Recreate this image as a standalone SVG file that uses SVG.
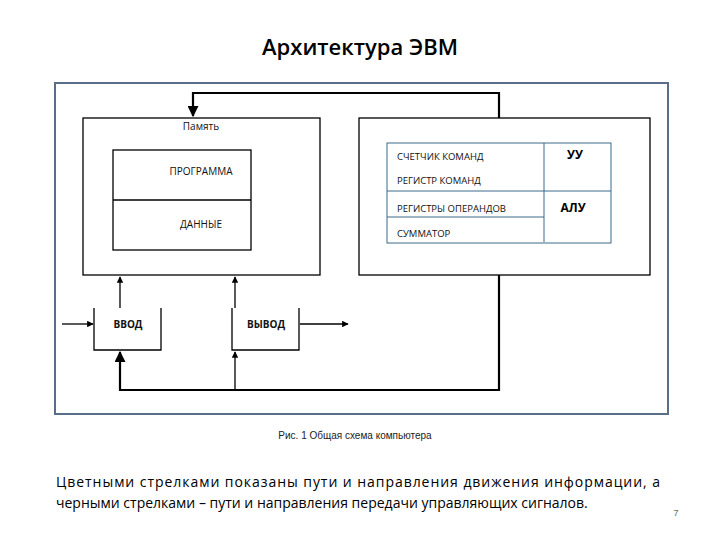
<svg xmlns="http://www.w3.org/2000/svg" width="720" height="540" viewBox="0 0 720 540">
<style>
.b{fill:none;stroke:#000;stroke-width:1.3}
.c{fill:none;stroke:#000;stroke-width:2.2}
.t{font-family:"Open Sans","DejaVu Sans",sans-serif;font-size:10px;fill:#111;text-anchor:middle}
.l{font-family:"Open Sans","DejaVu Sans",sans-serif;font-size:9.5px;fill:#111}
</style>
<defs>
<marker id="a" viewBox="0 0 10 10" refX="9" refY="5" markerWidth="5" markerHeight="5" orient="auto"><path d="M0,0L10,5L0,10z" fill="#000"/></marker>
</defs>
<rect width="720" height="540" fill="#fff"/>
<text x="360" y="55" font-family="Open Sans, sans-serif" font-size="22" font-weight="600" text-anchor="middle" fill="#000">Архитектура ЭВМ</text>
<rect x="55" y="83" width="613" height="331" fill="none" stroke="#5a6e8a" stroke-width="2"/>
<g id="memory"><rect class="b" x="83" y="118" width="237" height="157"/><text class="t" x="201" y="130">Память</text>
<rect class="b" x="113" y="150" width="138" height="100"/><line class="b" x1="113" y1="200" x2="251" y2="200"/>
<text class="t" x="201" y="175">ПРОГРАММА</text><text class="t" x="201" y="228">ДАННЫЕ</text></g>
<g id="cpu"><rect class="b" x="359" y="118" width="291" height="157"/>
<rect x="387" y="143" width="224" height="100" fill="none" stroke="#3a6a8a" stroke-width="1"/>
<line x1="387" y1="191" x2="611" y2="191" stroke="#3a6a8a"/><line x1="387" y1="217" x2="544" y2="217" stroke="#3a6a8a"/>
<line x1="544" y1="143" x2="544" y2="242" stroke="#3a6a8a"/>
<text class="l" x="397" y="160">СЧЕТЧИК КОМАНД</text><text class="l" x="397" y="184">РЕГИСТР КОМАНД</text>
<text class="l" x="397" y="212">РЕГИСТРЫ ОПЕРАНДОВ</text><text class="l" x="397" y="237">СУММАТОР</text>
<text x="575" y="159" font-family="Open Sans, sans-serif" font-size="12" font-weight="bold" text-anchor="middle">УУ</text>
<text x="573" y="212" font-family="Open Sans, sans-serif" font-size="12" font-weight="bold" text-anchor="middle">АЛУ</text></g>
<g id="input"><path class="b" d="M94,308V350H161V308"/><text class="t" x="128" y="328" font-weight="bold">ВВОД</text></g>
<g id="output"><path class="b" d="M232,308V350H299V308"/><text class="t" x="266" y="328" font-weight="bold">ВЫВОД</text></g>
<g id="connectors">
<path class="c" d="M499,118V93H193V116" marker-end="url(#a)"/>
<path class="c" d="M499,275V390H120V352" marker-end="url(#a)"/>
<path class="b" d="M235,390V352" marker-end="url(#a)"/>
<path class="b" d="M120,308V277" marker-end="url(#a)"/>
<path class="b" d="M235,308V277" marker-end="url(#a)"/>
<path class="b" d="M62,324H93" marker-end="url(#a)"/>
<path class="b" d="M300,324H348" marker-end="url(#a)"/>
</g>
<text x="355" y="439" font-family="Liberation Sans, Arial, sans-serif" font-size="10" text-anchor="middle" fill="#222">Рис. 1 Общая схема компьютера</text>
<text font-family="Open Sans, sans-serif" font-size="14" fill="#000"><tspan x="56" y="487" textLength="604" lengthAdjust="spacing">Цветными стрелками показаны пути и направления движения информации, а</tspan><tspan x="56" y="508">черными стрелками – пути и направления передачи управляющих сигналов.</tspan></text>
<text x="676" y="516" font-family="Liberation Sans, Arial, sans-serif" font-size="9" fill="#666" text-anchor="middle">7</text>
</svg>
